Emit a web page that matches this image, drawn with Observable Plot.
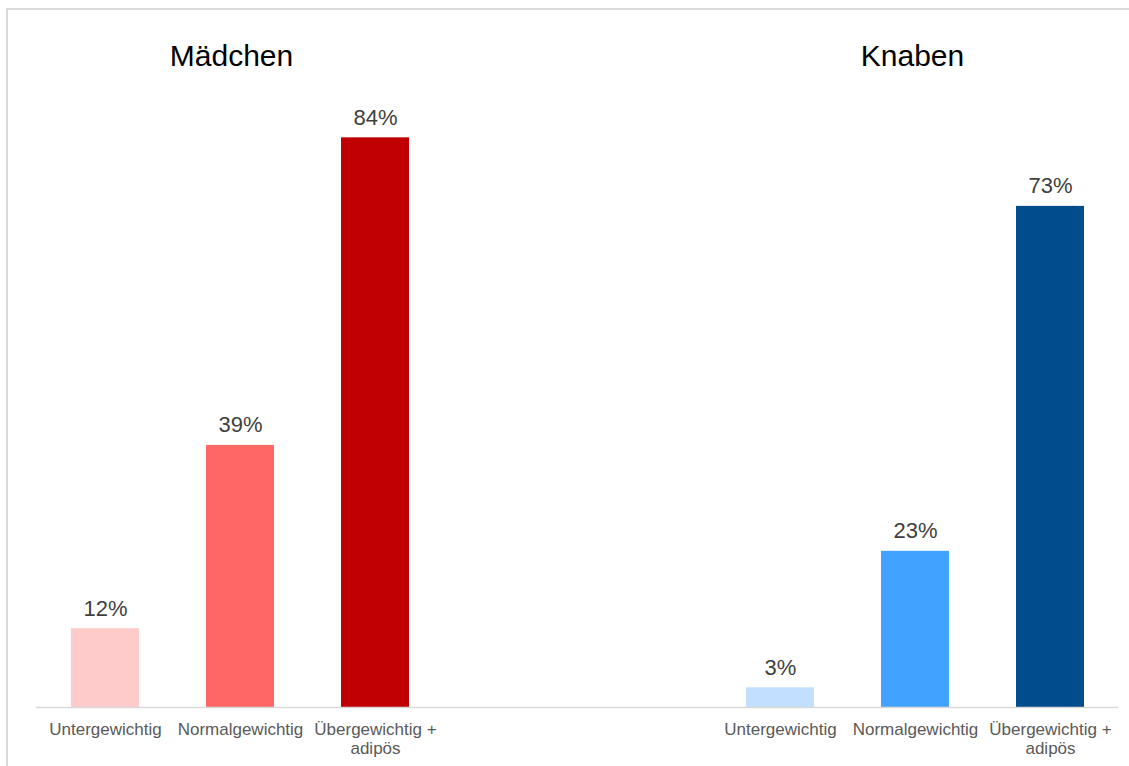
<!DOCTYPE html>
<html>
<head>
<meta charset="utf-8">
<script src="https://cdn.jsdelivr.net/npm/d3@7"></script>
<script src="https://cdn.jsdelivr.net/npm/@observablehq/plot@0.6"></script>
<style>
  html, body { margin: 0; padding: 0; background: #fff; overflow: hidden; }
  #frame { position: absolute; left: 6px; top: 8px; width: 2000px; height: 2000px;
           border-top: 2px solid #d9d9d9; border-left: 2px solid #d9d9d9; box-sizing: border-box; }
  #chart { position: absolute; left: 0; top: 0; }
  #chart svg { background: transparent; }
</style>
</head>
<body>
<div id="frame"></div>
<div id="chart"></div>
<script>
const groups = ["Mädchen", "Knaben"];
const categories = ["Untergewichtig", "Normalgewichtig", "Übergewichtig +\nadipös"];
const maedchenValues = [11.6, 38.6, 83.9];
const knabenValues = [2.9, 23.0, 73.8];
const maedchenLabels = ["12%", "39%", "84%"];
const knabenLabels = ["3%", "23%", "73%"];
const maedchenColors = ["#FFCACA", "#FF6666", "#C00000"];
const knabenColors = ["#C2DFFF", "#41A2FF", "#004C8D"];
const gapSlots = ["gap1", "gap2"];

const data = [];
categories.forEach((c, i) => data.push({key: "M" + i, label: c, value: maedchenValues[i], text: maedchenLabels[i], color: maedchenColors[i]}));
categories.forEach((c, i) => data.push({key: "K" + i, label: c, value: knabenValues[i], text: knabenLabels[i], color: knabenColors[i]}));
const domain = [...categories.map((c, i) => "M" + i), ...gapSlots, ...categories.map((c, i) => "K" + i)];
const labelOf = new Map(data.map(d => [d.key, d.label]));

const chart = Plot.plot({
  width: 1129,
  height: 766,
  marginLeft: 36,
  marginRight: 11,
  marginTop: 28,
  marginBottom: 59,
  style: {fontFamily: "'Liberation Sans', Arial, sans-serif", background: "transparent"},
  x: {domain, paddingInner: 0.497, paddingOuter: 0.2485, axis: null, label: null},
  y: {domain: [0, 100], axis: null},
  marks: [
    Plot.barY(data, {x: "key", y: "value", fill: "color"}),
    Plot.ruleY([0], {stroke: "#d9d9d9", strokeWidth: 1.5}),
    Plot.text(data, {x: "key", y: "value", text: "text", dy: -13, lineAnchor: "bottom",
      fontSize: 22, fill: "#404040"}),
    Plot.axisX({domain: data.map(d => d.key), tickSize: 0, tickPadding: 0, tickFormat: k => labelOf.get(k) ?? "",
      fontSize: 17, fill: "#595959", lineHeight: 1.12, dy: 14, textOverflow: null, label: null}),
    Plot.text([{key: "M1", title: groups[0]}], {x: "key", text: "title", frameAnchor: "top", lineAnchor: "bottom", dy: 37, dx: -9,
      fontSize: 30, fill: "#000"}),
    Plot.text([{key: "K1", title: groups[1]}], {x: "key", text: "title", frameAnchor: "top", lineAnchor: "bottom", dy: 37, dx: -3,
      fontSize: 30, fill: "#000"})
  ]
});
document.getElementById("chart").appendChild(chart);
</script>
</body>
</html>
